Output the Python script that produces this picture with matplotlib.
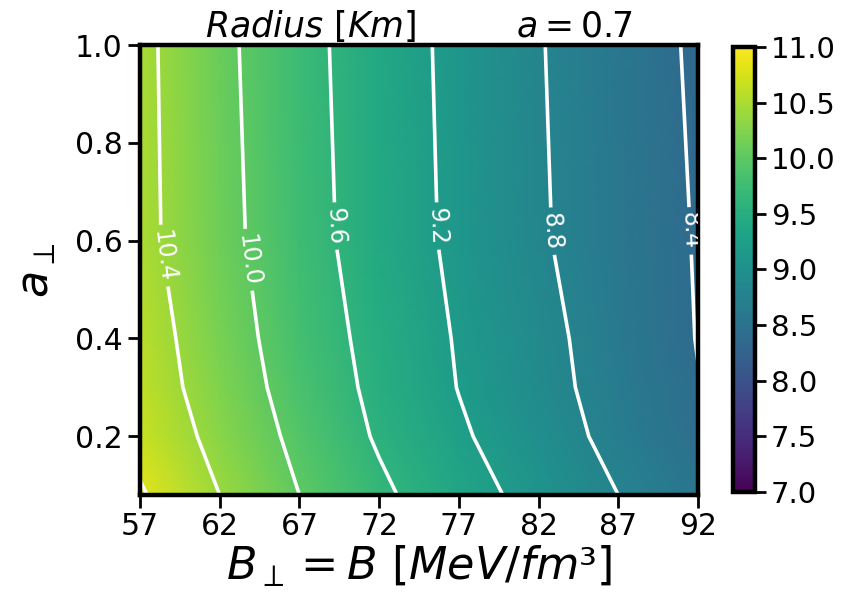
import matplotlib
matplotlib.use('Agg')
import matplotlib.pyplot as plt
import numpy as np

# values (radius in km)
B = [57, 62, 67, 72, 77, 82, 87, 92]
a_perp = [0.08, 0.2, 0.3, 0.4, 0.6, 1.0]
radius = [
	[10.84, 10.40, 10.00, 9.67, 9.36, 9.07, 8.80, 8.57],  # a_perp 0.08
	[10.68, 10.29, 9.91, 9.56, 9.25, 8.97, 8.70, 8.45],   # 0.2
	[10.61, 10.22, 9.85, 9.51, 9.19, 8.92, 8.66, 8.41],   # 0.3
	[10.58, 10.18, 9.81, 9.48, 9.17, 8.90, 8.64, 8.39],   # 0.4
	[10.50, 10.12, 9.75, 9.42, 9.12, 8.84, 8.60, 8.38],   # 0.6
	[10.49, 10.09, 9.72, 9.40, 9.10, 8.82, 8.58, 8.35],   # 1.0
]
levels = [8.4, 8.8, 9.2, 9.6, 10.0, 10.4, 10.8]
label_spots = [(58.6, 0.57), (63.6, 0.56), (69.4, 0.63), (75.8, 0.63), (83.5, 0.62), (91.5, 0.62)]

fig = plt.figure(figsize=(8.61, 6.15), dpi=100)
ax = fig.add_axes([0.1626, 0.1951, 0.6481, 0.7317])
cax = fig.add_axes([0.8513, 0.2, 0.0256, 0.7236])

mesh = ax.pcolormesh(B, a_perp, radius, cmap='viridis', vmin=7, vmax=11, shading='gouraud')
cs = ax.contour(B, a_perp, radius, levels=levels, colors='white', linewidths=2.6)
ax.clabel(cs, manual=label_spots, fmt='%.1f', fontsize=17, colors='white', inline=True)

ax.set_xlim(57, 92)
ax.set_ylim(0.08, 1.0)
ax.set_xticks(range(57, 93, 5))
ax.set_yticks([0.2, 0.4, 0.6, 0.8, 1.0])
ax.tick_params(labelsize=21.5, width=2, length=9)
for s in ax.spines.values():
	s.set_linewidth(3.2)

ax.set_title(r'$Radius\ [Km]$' + '         ' + r'$a=0.7$', fontsize=25, pad=6)
ax.set_ylabel(r'$a_\perp$', fontsize=32, labelpad=12)
ax.set_xlabel(r'$B_\perp = B\ [MeV/fm³]$', fontsize=32, labelpad=2)

cb = fig.colorbar(mesh, cax=cax, ticks=np.arange(7, 11.01, 0.5), format='%.1f')
cb.ax.tick_params(labelsize=21, width=2, length=8)
cb.outline.set_linewidth(3.2)

plt.savefig('out.png', dpi=100)
